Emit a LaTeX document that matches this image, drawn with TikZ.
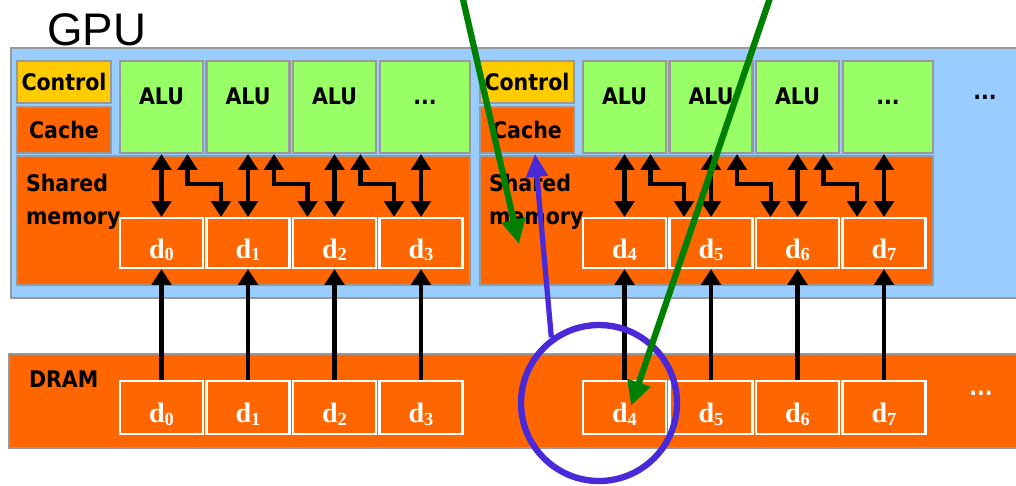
\documentclass[tikz,border=0pt]{standalone}
\usepackage{fontspec}
\usetikzlibrary{arrows.meta}
\newfontfamily\tahoma{DejaVu Sans Condensed}
\newfontfamily\arial{Liberation Sans}
\newfontfamily\dserif{Liberation Serif}
\definecolor{gpublue}{HTML}{99CCFF}
\definecolor{ctrlyellow}{HTML}{FFCC00}
\definecolor{memorange}{HTML}{FF6600}
\definecolor{alugreen}{HTML}{99FF66}
\definecolor{boxgray}{HTML}{999999}
\definecolor{markgreen}{HTML}{008000}
\definecolor{markpurple}{RGB}{74,42,216}
\newcommand{\dlab}[1]{d\raisebox{-0.1em}{\fontsize{10.5}{10.5}\selectfont #1}}

\begin{document}
\begin{tikzpicture}[x=0.02cm,y=-0.02cm,
	>={Triangle[width=11pt,length=9pt]},line width=2.3pt]
	\tikzstyle{box}=[draw=boxgray,line width=1.2pt,inner sep=0pt]
	\tikzstyle{label font}=[font={\tahoma\bfseries\fontsize{13}{18.7}\selectfont}]
	\tikzstyle{alu}=[box,label font,fill=alugreen,minimum width=1.66cm,minimum height=1.84cm,text height=0.34cm,text depth=0.46cm]
	\tikzstyle{data}=[draw=white,line width=1.2pt,fill=memorange,minimum width=1.66cm,minimum height=1cm,inner sep=0pt,text=white,font={\dserif\bfseries\fontsize{16}{18}\selectfont},text height=0.6cm,text depth=0cm]
	\tikzstyle{markline}=[line width=3.6pt]
	
	\useasboundingbox (0,0) rectangle (1016,485);
	
	% Draw GPU and DRAM
	\node[box,fill=gpublue,minimum width=20.38cm,minimum height=5cm] (gpu) at (520.5,173) {};
	\node[box,fill=memorange,minimum width=20.42cm,minimum height=1.88cm] (dram) at (519.5,401) {};
	\node[anchor=base west,inner sep=0pt,font={\arial\fontsize{26}{30}\selectfont}] (gpu-t) at (45,45) {GPU};
	\node[label font,anchor=base west,inner sep=0pt] (dram-t) at (27,387) {DRAM};
	
	% Draw the two blocks
	\foreach \b/\ox in {1/0,2/463} {
		\node[box,fill=ctrlyellow,minimum width=1.88cm,minimum height=0.84cm,label font] (C-\b) at (64+\ox,82) {Control};
		\node[box,fill=memorange,minimum width=1.88cm,minimum height=0.92cm,label font] (K-\b) at (64+\ox,130) {Cache};
		\node[box,fill=memorange,minimum width=9.06cm,minimum height=2.58cm] (M-\b) at (243.5+\ox,220.5) {};
		\foreach \i in {1,...,3}
		\node[alu] (A-\b-\i) at ({161.5+86.5*(\i-1)+\ox},107) {ALU};
		\node[alu,minimum width=1.8cm] (A-\b-4) at (425+\ox,107) {...};
		\foreach \i in {1,...,4} {
			\pgfmathtruncatemacro\k{4*(\b-1)+\i-1}
			\node[data] (S-\b-\i) at ({161.5+86.5*(\i-1)+\ox},243) {\dlab{\k}};
			\node[data,minimum height=1.06cm] (D-\b-\i) at ({161.5+86.5*(\i-1)+\ox},407.5) {\dlab{\k}};
		}
		\node[label font,anchor=north west,inner sep=0pt,align=left] (M-\b-t) at (24+\ox,172) {Shared\\memory};
	}
	
	% Connect ALUs and shared memory
	\foreach \b in {1,2} {
		\foreach \i in {1,...,4}
		\draw[<->] (S-\b-\i.north |- A-\b-\i.south) -- (S-\b-\i.north);
		\foreach \i/\j in {1/2,2/3,3/4}
		\draw[<->] ([xshift=0.52cm]A-\b-\i.south) -- ++(0,30) -| ([xshift=-0.54cm]S-\b-\j.north);
	}
	
	% Connect DRAM and shared memory
	\foreach \b in {1,2}
	\foreach \i in {1,...,4}
	\draw[->] (D-\b-\i.north) -- (S-\b-\i.south);
	
	\node[label font] (more-gpu) at (985,97) {...};
	\node[label font,text=white] (more-dram) at (981,393) {...};
	
	% Annotate
	\node[circle,draw=markpurple,markline,minimum size=3.12cm] (hl) at (599,403) {};
	\draw[markpurple,line width=3pt,-{Triangle[width=12pt,length=13pt]}] (hl.126) -- ([xshift=0.16cm]K-2.south);
	\coordinate (g1) at (462,-5);
	\coordinate (g1-end) at (519,244);
	\coordinate (g2) at (771,-5);
	\coordinate (g2-end) at (631,406);
	\draw[markgreen,markline,-{Triangle[width=13pt,length=14pt]}] (g1) -- (g1-end);
	\draw[markgreen,markline,-{Triangle[width=13pt,length=14pt]}] (g2) -- (g2-end);
\end{tikzpicture}
\end{document}
